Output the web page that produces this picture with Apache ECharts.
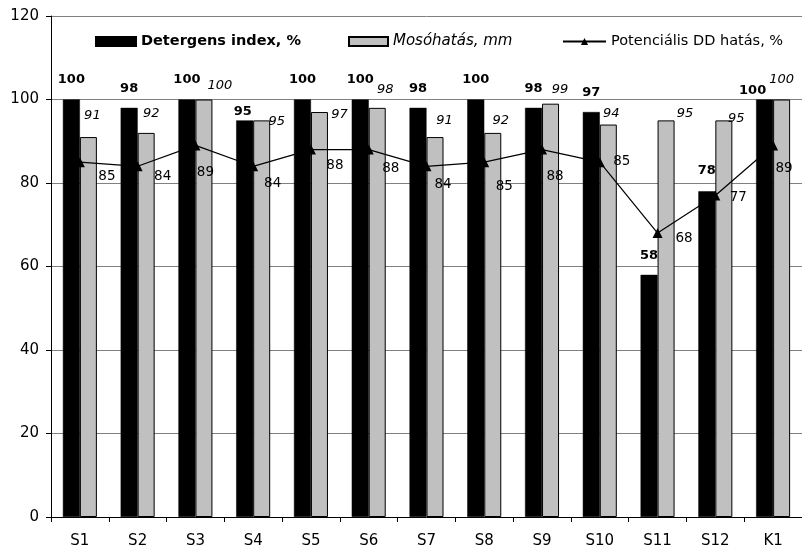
<!DOCTYPE html>
<html><head><meta charset="utf-8">
<script src="https://cdn.jsdelivr.net/npm/echarts@6/dist/echarts.min.js"></script>
<style>html,body{margin:0;padding:0;background:#fff}#c{width:802px;height:550px}</style>
</head><body><div id="c"></div>
<script>
// ---- data ----
const categories = ['S1','S2','S3','S4','S5','S6','S7','S8','S9','S10','S11','S12','K1'];
const detergensIndex = [100, 98, 100, 95, 100, 100, 98, 100, 98, 97, 58, 78, 100];
const mosohatas = [91, 92, 100, 95, 97, 98, 91, 92, 99, 94, 95, 95, 100];
const potencialisDD = [85, 84, 89, 84, 88, 88, 84, 85, 88, 85, 68, 77, 89];
const seriesNames = ['Detergens index, %', 'Mosóhatás, mm', 'Potenciális DD hatás, %'];
const yMin = 0, yMax = 120, yStep = 20;

// ---- label placement tweaks (style only) ----
const blackLabelOffsets = [[0,-13],[0,-13],[0,-13],[-2,-2],[0,-13],[0,-13],[0,-13],[0,-13],[0,-13],[0,-13],[0,-13],[0,-14],[-12,-2]];
const grayLabelOffsets = [[4,-14.5],[5,-13],[16,-7],[15,7.5],[20,9.5],[8,-11.5],[9.5,-9.5],[8,-5.5],[9.5,-8],[3,-4.5],[19,0],[12.5,5],[0,-13]];
const lineLabelOffsets = [[27,14],[25,10],[10,27],[19.5,17],[24,16],[22,19],[16.5,18],[20,24],[13,27],[22,-1],[26.5,5],[23,1.5],[11,23.5]];

const FONT = 'DejaVu Sans';
const chart = echarts.init(document.getElementById('c'), null, {renderer: 'canvas'});

const blackData = detergensIndex.map((v, i) => ({value: v, label: {offset: blackLabelOffsets[i]}}));
const grayData = mosohatas.map((v, i) => ({value: v, label: {offset: grayLabelOffsets[i]}}));
const lineData = potencialisDD.map((v, i) => ({value: v, label: {offset: lineLabelOffsets[i]}}));

const legendBase = {orient: 'horizontal', top: 34, itemHeight: 9, padding: 0, selectedMode: false};

chart.setOption({
  backgroundColor: '#fff',
  animation: false,
  textStyle: {fontFamily: FONT},
  grid: {left: 51, top: 16, right: -12, bottom: 33, containLabel: false},
  legend: [
    Object.assign({}, legendBase, {left: 95, itemWidth: 40, icon: 'rect', data: [seriesNames[0]],
      textStyle: {fontFamily: FONT, fontSize: 14.5, fontWeight: 'bold', color: '#000'}}),
    Object.assign({}, legendBase, {left: 348, itemWidth: 39, icon: 'rect', data: [seriesNames[1]],
      textStyle: {fontFamily: FONT, fontSize: 15, fontStyle: 'italic', color: '#000'}}),
    Object.assign({}, legendBase, {left: 562, itemWidth: 43, data: [seriesNames[2]],
      textStyle: {fontFamily: FONT, fontSize: 14.5, color: '#000'}})
  ],
  xAxis: {
    type: 'category', data: categories, boundaryGap: true,
    axisLine: {show: true, lineStyle: {color: '#000', width: 1}},
    axisTick: {show: true, length: 5, interval: 0, lineStyle: {color: '#000'}},
    axisLabel: {fontFamily: FONT, fontSize: 15, color: '#000', margin: 17, interval: 0},
    splitLine: {show: false}
  },
  yAxis: {
    type: 'value', min: yMin, max: yMax, interval: yStep,
    axisLine: {show: true, lineStyle: {color: '#000', width: 1}},
    axisTick: {show: true, length: 5, lineStyle: {color: '#000'}},
    axisLabel: {fontFamily: FONT, fontSize: 15, color: '#000', margin: 12},
    splitLine: {show: true, lineStyle: {color: '#808080', width: 1}}
  },
  series: [
    {
      name: seriesNames[0], type: 'bar', data: blackData, barWidth: 17, barGap: '0%',
      itemStyle: {color: '#000', borderColor: '#000', borderWidth: 0.5},
      label: {show: true, position: 'top', distance: 0, fontFamily: FONT, fontSize: 13,
        fontWeight: 'bold', color: '#000'},
      z: 2
    },
    {
      name: seriesNames[1], type: 'bar', data: grayData, barWidth: 17, barGap: '0%',
      itemStyle: {color: '#c0c0c0', borderColor: '#000', borderWidth: 1},
      label: {show: true, position: 'top', distance: 0, fontFamily: FONT, fontSize: 13,
        fontStyle: 'italic', color: '#000'},
      z: 2
    },
    {
      name: seriesNames[2], type: 'line', data: lineData,
      symbol: 'triangle', symbolSize: 10, showAllSymbol: true,
      lineStyle: {color: '#000', width: 1.2},
      itemStyle: {color: '#000'},
      label: {show: true, position: 'inside', fontFamily: FONT, fontSize: 13.5, color: '#000'},
      z: 5
    }
  ]
});
</script></body></html>
